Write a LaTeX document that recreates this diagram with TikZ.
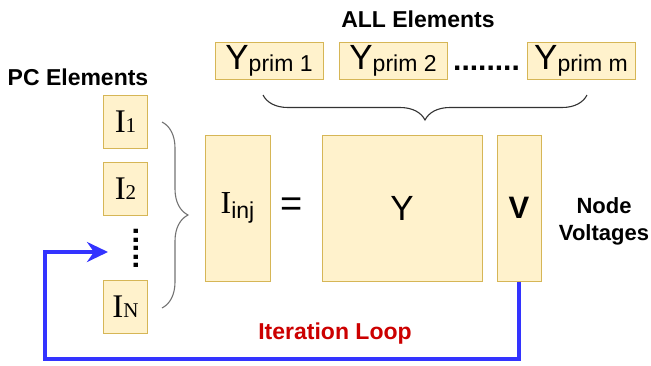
\documentclass[tikz,border=0pt]{standalone}
\usepackage{fontspec}
\setmainfont{Liberation Sans}
\newfontfamily\timesfont{Liberation Serif}
\usepackage{tikz}
\usetikzlibrary{arrows.meta, positioning, decorations.pathreplacing}

\definecolor{boxfill}{HTML}{FFF2CC}
\definecolor{boxline}{HTML}{D6B656}
\definecolor{loopblue}{HTML}{3333FF}
\definecolor{loopred}{HTML}{CC0000}

\newcommand{\yprim}[1]{{\fontsize{35}{35}\selectfont Y}\raisebox{-2pt}{\fontsize{23}{23}\selectfont prim #1}}
\newcommand{\icur}[1]{{\timesfont\fontsize{33}{33}\selectfont I\fontsize{21}{21}\selectfont #1}}

\begin{document}
\begin{tikzpicture}[
    x=1pt, y=-1pt,
    node distance=15pt,
    box/.style={draw=boxline, fill=boxfill, line width=1pt, rectangle, inner sep=0pt, align=center},
    ybox/.style={box, minimum width=108pt, minimum height=37pt},
    ibox/.style={box, minimum width=44pt, minimum height=53pt},
    tallbox/.style={box, minimum height=146pt},
    title/.style={font=\bfseries\fontsize{23}{27}\selectfont, align=center},
    dots/.style={font=\bfseries\fontsize{30}{30}\selectfont, inner sep=0pt},
    brace/.style={decorate, decoration={brace, amplitude=#1}, line width=1.1pt},
    arrow/.style={-{Stealth[length=21pt, width=20pt, inset=7pt]}, line width=4pt, loopblue}
]
    \useasboundingbox (0,0) rectangle (651,365);

    % Admittance matrix
    \node[tallbox, minimum width=160pt] (ymat) at (402,208) {\fontsize{35}{35}\selectfont Y};

    % Node voltages
    \node[tallbox, minimum width=44pt, right=14pt of ymat] (v) {\bfseries\fontsize{31}{31}\selectfont V};
    \node[title, font=\bfseries\fontsize{22}{27}\selectfont] (nv) at (604,221) {Node\\Voltages};

    % Injected currents
    \node[tallbox, minimum width=65pt, left=51pt of ymat] (iinj) {{\timesfont\fontsize{32}{32}\selectfont I}\raisebox{-5pt}{\fontsize{23}{23}\selectfont inj}};
    \node[font=\fontsize{38}{38}\selectfont] (eq) at (292,207) {=};

    % PC elements
    \node[title] (pc) at (78,77) {PC Elements};
    \node[ibox] (i1) at (125.5,121.5) {\icur{1}};
    \node[ibox, below=13pt of i1] (i2) {\icur{2}};
    \node[dots, rotate=90] (vdots) at (136,248.5) {.....};
    \node[ibox] (iN) at (125.5,307) {\icur{N}};

    % All elements
    \node[title] (all) at (418,19) {ALL Elements};
    \node[ybox] (p1) at (269,60.5) {\yprim{1}};
    \node[ybox, right=15pt of p1] (p2) {\yprim{2}};
    \node[ybox] (pm) at (581,60.5) {\yprim{m}};
    \node[dots] (hdots) at (486.5,68) {........};

    % Braces
    \draw[brace=25, black!80] (587,95) -- (263,95);
    \draw[brace=26, black!55] (162,122) -- (162,308);

    % Iteration loop
    \coordinate (corner) at (45,359);
    \coordinate (loopin) at (108,252);
    \draw[arrow] (v.south) |- (corner) |- (loopin);
    \node[title, loopred] (iter) at (335,334) {Iteration Loop};

\end{tikzpicture}
\end{document}
